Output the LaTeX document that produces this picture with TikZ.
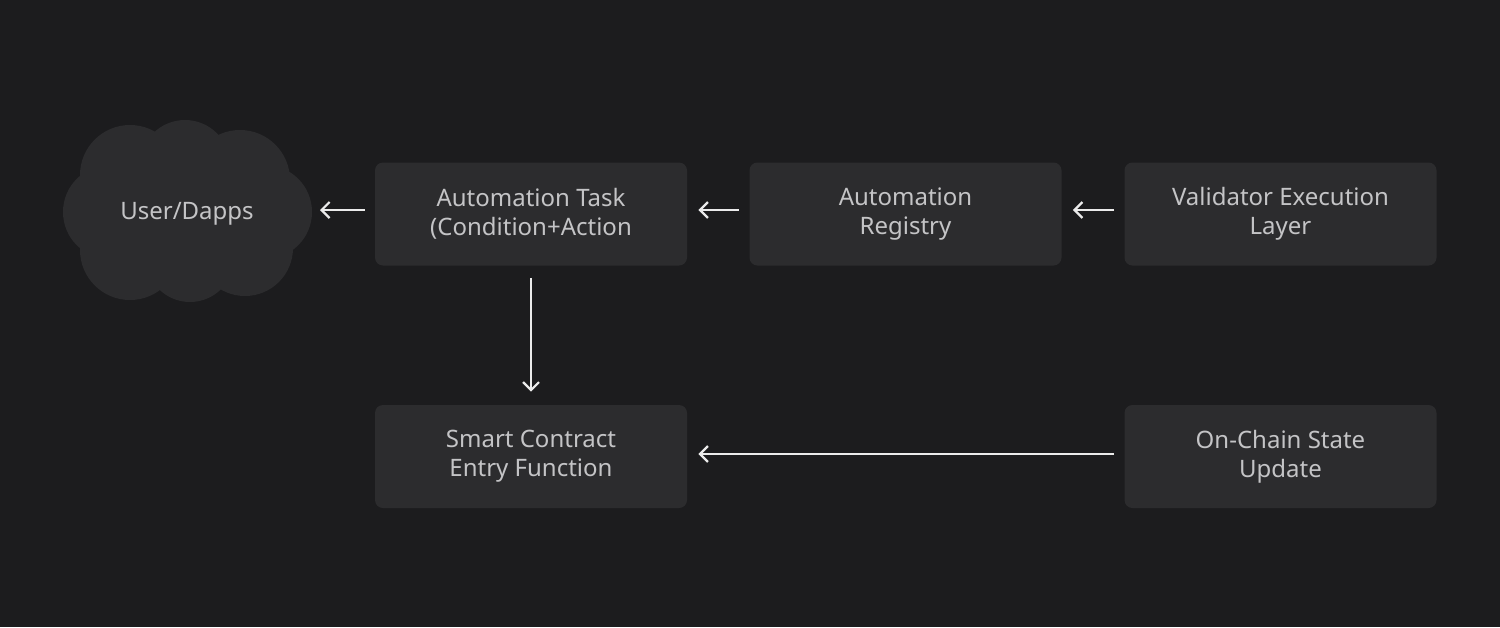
\documentclass[tikz,border=0pt]{standalone}
\usepackage{fontspec}
\setmainfont{Noto Sans}
\usetikzlibrary{arrows.meta}
\definecolor{bg}{HTML}{1C1C1E}
\definecolor{box}{HTML}{2C2C2E}
\definecolor{txt}{HTML}{C4C4C6}
\begin{document}
\begin{tikzpicture}[x=0.5pt,y=-0.5pt,
  blk/.style={fill=box,draw=none,rounded corners=4pt,minimum width=156pt,minimum height=51.5pt,text=txt,align=center,font=\fontsize{12}{14.5}\selectfont,inner sep=0pt},
  arr/.style={draw=white!92!black,line width=1.1pt,-{Straight Barb[length=4pt,width=8pt,line width=1.1pt]}}]
\fill[bg] (0,0) rectangle (1500,627);
\useasboundingbox (0,0) rectangle (1500,627);
% cloud
\fill[box] (130,175) circle (50) (185,165) circle (45) (240,180) circle (50)
  (110,212) circle (47) (265,212) circle (47) (130,250) circle (50)
  (190,258) circle (44) (245,248) circle (48) (187,212) circle (70);
\node[text=txt,font=\fontsize{12}{14.5}\selectfont] (user) at (187,214) {User/Dapps};
\coordinate (userE) at (320,210);
\node[blk] (task) at (531,214) {Automation Task\\(Condition+Action};
\node[blk] (reg) at (905.5,214) {Automation\\Registry};
\node[blk] (val) at (1280.5,214) {Validator Execution\\Layer};
\node[blk] (sc) at (531,456.5) {Smart Contract\\Entry Function};
\node[blk] (oc) at (1280.5,456.5) {On-Chain State\\Update};
\draw[arr] ([xshift=-5pt]task.west |- 0,210) -- (userE);
\draw[arr] ([xshift=-5pt]reg.west |- 0,210) -- ([xshift=5.5pt]task.east |- 0,210);
\draw[arr] ([xshift=-5pt]val.west |- 0,210) -- ([xshift=5.5pt]reg.east |- 0,210);
\draw[arr] ([yshift=-6pt]task.south) -- ([yshift=6.5pt]sc.north);
\draw[arr] ([xshift=-5pt]oc.west |- 0,454) -- ([xshift=5.5pt]sc.east |- 0,454);
\end{tikzpicture}
\end{document}
